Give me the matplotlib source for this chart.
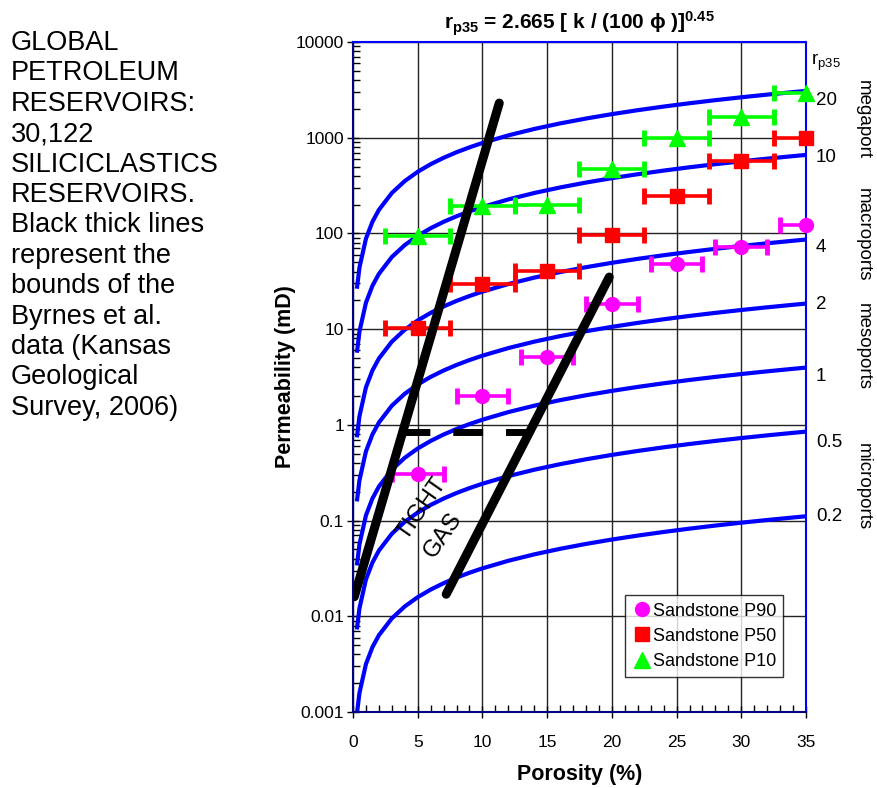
import numpy as np
import matplotlib
matplotlib.use('Agg')
import matplotlib.pyplot as plt
from matplotlib.lines import Line2D

plt.rcParams['font.family'] = ['Liberation Sans', 'DejaVu Sans']
plt.rcParams['mathtext.fontset'] = 'custom'
plt.rcParams['mathtext.rm'] = 'Liberation Sans'
plt.rcParams['mathtext.bf'] = 'Liberation Sans:bold'
plt.rcParams['mathtext.it'] = 'Liberation Sans:italic'

# ---------------- data ----------------
porosity = [5, 10, 15, 20, 25, 30, 35]
p90 = [0.31, 2.0, 5.1, 18.5, 48, 73, 122]
p50 = [10.2, 29.5, 40.5, 97, 246, 575, 1000]
p10 = [94, 193, 198, 468, 985, 1660, 2910]
p90_err = 2.0
p50_err = 2.5
p10_err = 2.5

# r_p35 iso-lines, from the chart's equation r = 2.665 [k/(100 phi)]^0.45
r_values = [0.2, 0.5, 1, 2, 4, 10, 20]
r_labels = ['0.2', '0.5', '1', '2', '4', '10', '20']
curve_phi = [0.3, 0.5, 1, 1.5, 2, 3, 4, 5, 6, 7, 8, 9, 10, 12, 14, 16, 18, 20,
             22, 24, 26, 28, 30, 32, 34, 35]

# Byrnes et al. bounds
bound1_phi = [0.1, 11.3]
bound1_k = [0.016, 2300]
bound2_phi = [7.2, 19.8]
bound2_k = [0.017, 35]
dash_phi = [3.6, 13.7]
dash_k = [0.85, 0.85]

xticks = [0, 5, 10, 15, 20, 25, 30, 35]
yticks = [0.001, 0.01, 0.1, 1, 10, 100, 1000, 10000]
ytick_labels = ['0.001', '0.01', '0.1', '1', '10', '100', '1000', '10000']

# ---------------- figure ----------------
fig = plt.figure(figsize=(8.78, 7.88), dpi=100)
ax = fig.add_axes([353/878, 1-712/788, (806-353)/878, (712-42)/788])
ax.set_yscale('log')
ax.set_xlim(0, 35)
ax.set_ylim(0.001, 10000)

ax.set_xticks(xticks)
ax.set_xticklabels([str(t) for t in xticks])
ax.set_yticks(yticks)
ax.set_yticklabels(ytick_labels)
ax.set_xticks(np.arange(0, 36, 1), minor=True)
ax.grid(True, which='major', color='#222222', lw=1.0, zorder=0)
ax.set_axisbelow(True)
ax.tick_params(which='major', direction='inout', length=9, width=1, labelsize=12.5)
ax.tick_params(axis='y', which='major', pad=2)
ax.tick_params(axis='x', which='major', pad=12)
ax.tick_params(which='minor', direction='in', length=5, width=1)
ax.tick_params(axis='y', which='minor', direction='in', length=5)

for s in ['left', 'bottom']:
    ax.spines[s].set_color('#000080')
    ax.spines[s].set_linewidth(1.5)
for s in ['top', 'right']:
    ax.spines[s].set_color('#0000FF')
    ax.spines[s].set_linewidth(1.5)

# iso r_p35 curves
phi_arr = np.array(curve_phi)
for r in r_values:
    k = phi_arr * (r / 2.665) ** (1 / 0.45)
    ax.plot(phi_arr, k, color='#0000FF', lw=3, zorder=2, solid_capstyle='butt')

# data with horizontal error bars
series = [(p90, p90_err, '#FF00FF', 'o', 10, 'Sandstone P90'),
          (p50, p50_err, '#FF0000', 's', 10, 'Sandstone P50'),
          (p10, p10_err, '#00FF00', '^', 11, 'Sandstone P10')]
handles = []
for vals, err, col, mk, ms, lab in series:
    ax.errorbar(porosity, vals, xerr=err, fmt='none', ecolor=col, elinewidth=2.6,
                capsize=6, capthick=3.5, zorder=3)
    ax.plot(porosity, vals, linestyle='none', marker=mk, markersize=ms, color=col,
            markeredgecolor=col, zorder=4, clip_on=False)
    handles.append(Line2D([], [], linestyle='none', marker=mk, markersize=ms,
                          color=col, markeredgecolor=col, label=lab))

# Byrnes bounds
ax.plot(bound1_phi, bound1_k, color='black', lw=6.5, solid_capstyle='round', zorder=5)
ax.plot(bound2_phi, bound2_k, color='black', lw=6.5, solid_capstyle='round', zorder=5)
ln, = ax.plot(dash_phi, dash_k, color='black', lw=5, zorder=5, dash_capstyle='butt')
ln.set_dashes([4.3, 3.3])

ax.text(5.33, 0.134, 'TIGHT', rotation=55, rotation_mode='anchor', ha='center',
        va='center', fontsize=17, zorder=6)
ax.text(7.0, 0.07, 'GAS', rotation=55, rotation_mode='anchor', ha='center',
        va='center', fontsize=17, zorder=6)

# right-side labels
label_y = [0.109, 0.66, 3.2, 17.9, 72, 628, 2477]
ytr = ax.get_yaxis_transform()
for lab, yv in zip(r_labels, label_y):
    ax.text(1.022, yv, lab, transform=ytr, ha='left', va='center', fontsize=13.5)
ax.text(1.012, 0.970, r'r$_{\mathrm{p35}}$', transform=ax.transAxes, ha='left',
        va='center', fontsize=13.5)
regions = [('megaport', 0.885), ('macroports', 0.712), ('mesoports', 0.545),
           ('microports', 0.336)]
for lab, yf in regions:
    ax.text(1.127, yf, lab, transform=ax.transAxes, rotation=-90, ha='center',
            va='center', fontsize=13.5)

ax.set_xlabel('Porosity (%)', fontsize=15.5, fontweight='bold', labelpad=10)
ax.set_ylabel('Permeability (mD)', fontsize=15.5, fontweight='bold', labelpad=0)
ax.set_title(r'$\mathbf{r_{p35}}$ = 2.665 [ k / (100 ϕ )]$^{\mathbf{0.45}}$',
             fontsize=15, fontweight='bold', pad=9)

leg = ax.legend(handles=handles, loc='lower right', bbox_to_anchor=(0.95, 0.052),
                fontsize=13, frameon=True, fancybox=False, borderpad=0.4,
                handletextpad=0.05, handlelength=1.1, labelspacing=0.45,
                borderaxespad=0)
leg.get_frame().set_edgecolor('black')
leg.get_frame().set_linewidth(1)

fig.text(0.012, 0.962, 'GLOBAL\nPETROLEUM\nRESERVOIRS:\n30,122\nSILICICLASTICS\n'
         'RESERVOIRS.\nBlack thick lines\nrepresent the\nbounds of the\n'
         'Byrnes et al.\ndata (Kansas\nGeological\nSurvey, 2006)',
         ha='left', va='top', fontsize=19.5, linespacing=1.22)

fig.savefig('out.png', dpi=100)
